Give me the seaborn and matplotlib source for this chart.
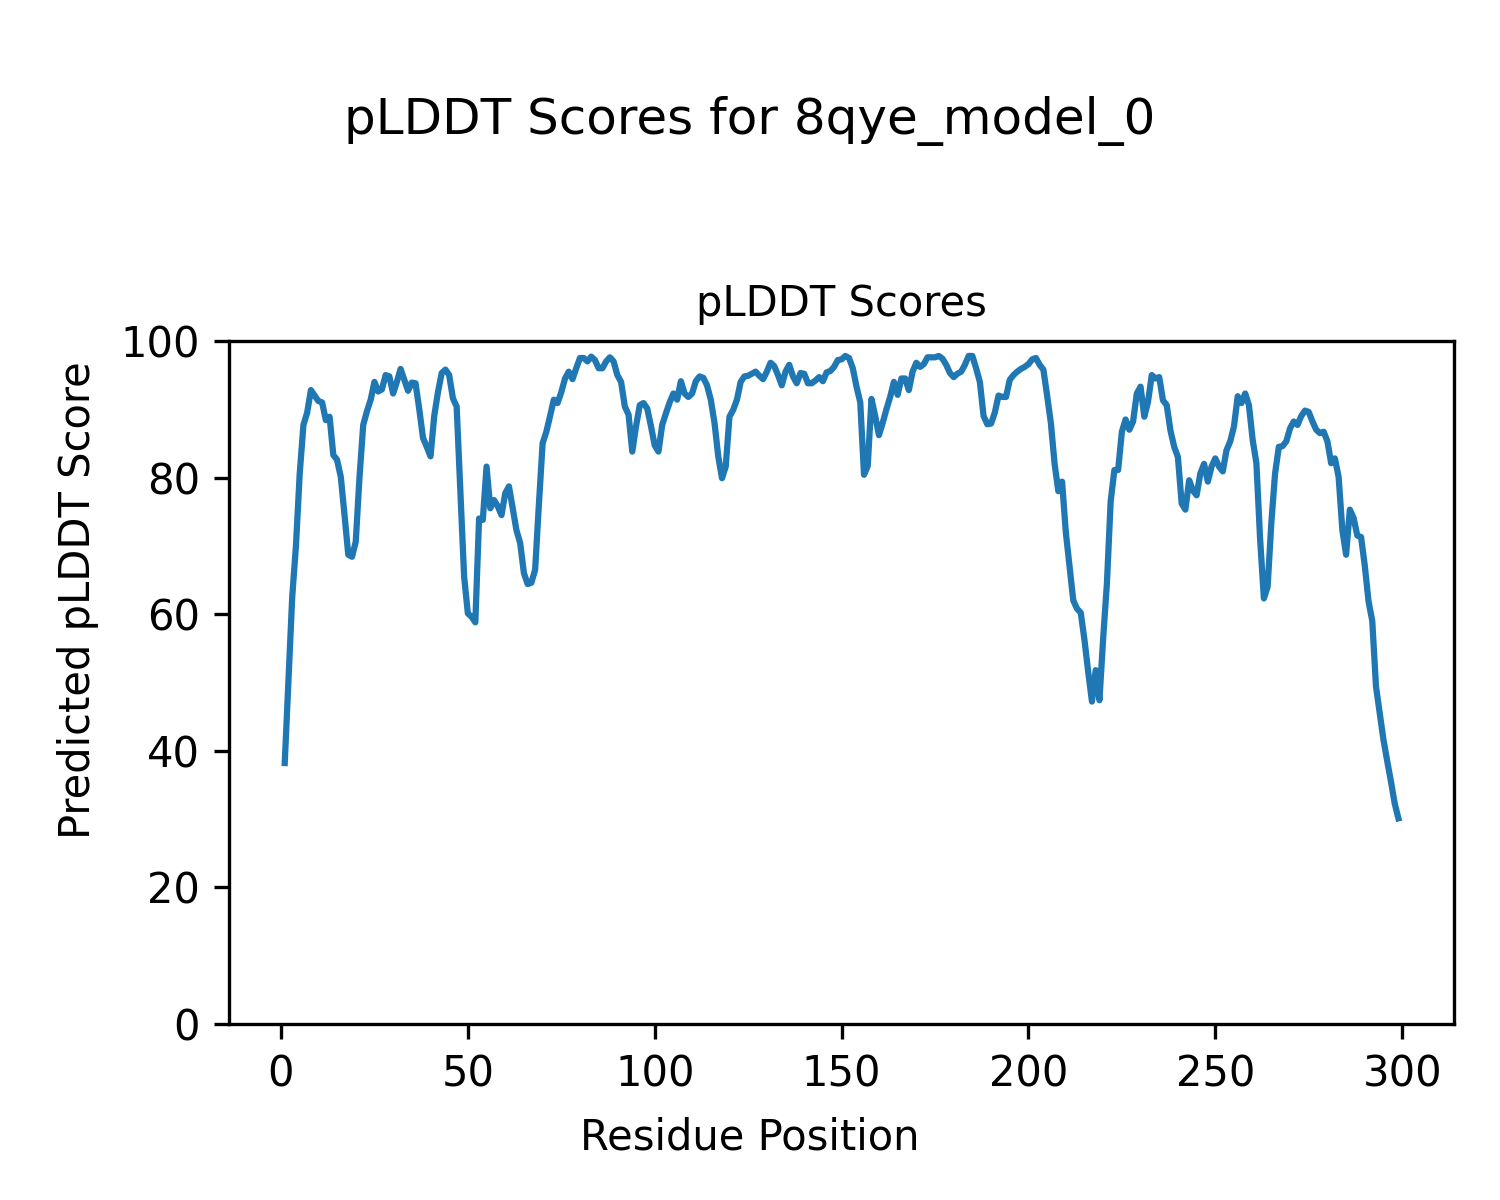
import numpy as np
import pandas as pd
import seaborn as sns
import matplotlib
matplotlib.use("Agg")
import matplotlib.pyplot as plt

# pLDDT values per residue
model_name = "8qye_model_0"
plddt = [
    38.2, 50.5, 62.5, 70.0, 80.5, 87.7, 89.5, 92.8, 92.0, 91.2,
    91.0, 88.4, 88.9, 83.3, 82.6, 80.1, 74.5, 68.7, 68.4, 70.6,
    80.0, 87.7, 89.7, 91.4, 94.0, 92.6, 92.9, 95.0, 94.8, 92.3,
    94.0, 95.9, 94.3, 92.7, 93.9, 93.8, 90.0, 85.8, 84.5, 83.1,
    89.0, 92.5, 95.3, 95.8, 95.0, 91.6, 90.4, 78.0, 65.5, 60.1,
    59.6, 58.8, 74.0, 73.8, 81.6, 75.5, 76.7, 75.8, 74.5, 77.7,
    78.7, 75.5, 72.3, 70.4, 66.0, 64.4, 64.6, 66.5, 76.0, 85.0,
    86.7, 89.0, 91.4, 90.9, 92.5, 94.5, 95.5, 94.4, 96.0, 97.5,
    97.5, 97.0, 97.7, 97.2, 96.0, 96.0, 97.0, 97.6, 97.0, 95.0,
    94.0, 90.4, 89.2, 83.8, 87.5, 90.6, 90.9, 90.1, 87.5, 84.7,
    83.8, 87.7, 89.4, 91.0, 92.3, 91.4, 94.1, 92.3, 91.8, 92.3,
    94.1, 94.8, 94.6, 93.5, 91.4, 88.0, 83.1, 79.9, 81.6, 88.9,
    89.9, 91.4, 94.0, 94.8, 94.9, 95.2, 95.5, 94.9, 94.4, 95.5,
    96.8, 96.3, 95.0, 93.5, 95.5, 96.5, 94.8, 93.8, 95.3, 95.2,
    93.8, 93.8, 94.2, 94.7, 94.1, 95.4, 95.6, 96.2, 97.2, 97.3,
    97.8, 97.5, 96.0, 93.3, 91.0, 80.4, 81.7, 91.5, 89.0, 86.2,
    88.0, 90.0, 91.8, 94.0, 92.1, 94.5, 94.5, 92.8, 95.5, 96.8,
    96.2, 96.6, 97.6, 97.6, 97.6, 97.8, 97.4, 96.5, 95.3, 94.7,
    95.2, 95.5, 96.5, 97.8, 97.8, 96.0, 94.0, 89.0, 87.8, 87.9,
    89.5, 92.0, 91.8, 91.8, 94.3, 95.0, 95.5, 95.9, 96.2, 96.6,
    97.3, 97.5, 96.5, 95.8, 92.0, 88.0, 82.0, 78.0, 79.4, 72.0,
    67.0, 62.0, 60.8, 60.2, 56.2, 51.5, 47.2, 51.8, 47.4, 56.5,
    64.5, 76.5, 81.1, 81.1, 86.7, 88.5, 87.0, 88.2, 92.3, 93.3,
    88.9, 91.1, 95.0, 94.5, 94.7, 91.3, 90.6, 86.9, 84.5, 83.0,
    76.2, 75.3, 79.6, 78.1, 77.4, 80.6, 82.0, 79.4, 81.6, 82.8,
    81.6, 80.9, 84.0, 85.3, 87.5, 91.9, 90.9, 92.3, 90.6, 85.5,
    82.1, 70.9, 62.3, 64.0, 73.4, 80.6, 84.5, 84.6, 85.3, 87.2,
    88.2, 87.7, 89.0, 89.8, 89.6, 88.2, 87.0, 86.5, 86.7, 85.3,
    82.1, 82.8, 80.1, 72.3, 68.7, 75.3, 74.1, 71.5, 71.3, 67.1,
    61.9, 59.0, 49.4, 45.5, 41.6, 38.5, 35.5, 32.3, 30.1,
]
residues = list(range(1, len(plddt) + 1))

df = pd.DataFrame({"Residue Position": residues, "pLDDT": plddt})

fig = plt.figure(figsize=(5, 4), dpi=300)
ax = fig.add_axes([0.1527, 0.1467, 0.8167, 0.5692])

sns.lineplot(data=df, x="Residue Position", y="pLDDT", ax=ax, linewidth=1.5)

ax.set_ylim(0, 100)
ax.set_xticks([0, 50, 100, 150, 200, 250, 300])
ax.set_title("pLDDT Scores", fontsize=10)
ax.set_xlabel("")
ax.set_ylabel("")

# figure-level labels and title
fig.suptitle(f"pLDDT Scores for {model_name}", fontsize=12, y=0.92, va="top")
fig.supxlabel("Residue Position", fontsize=10, y=0.052, va="center")
fig.supylabel("Predicted pLDDT Score", fontsize=10, x=0.052, y=0.5, ha="center")

fig.savefig("out.png", dpi=300)
